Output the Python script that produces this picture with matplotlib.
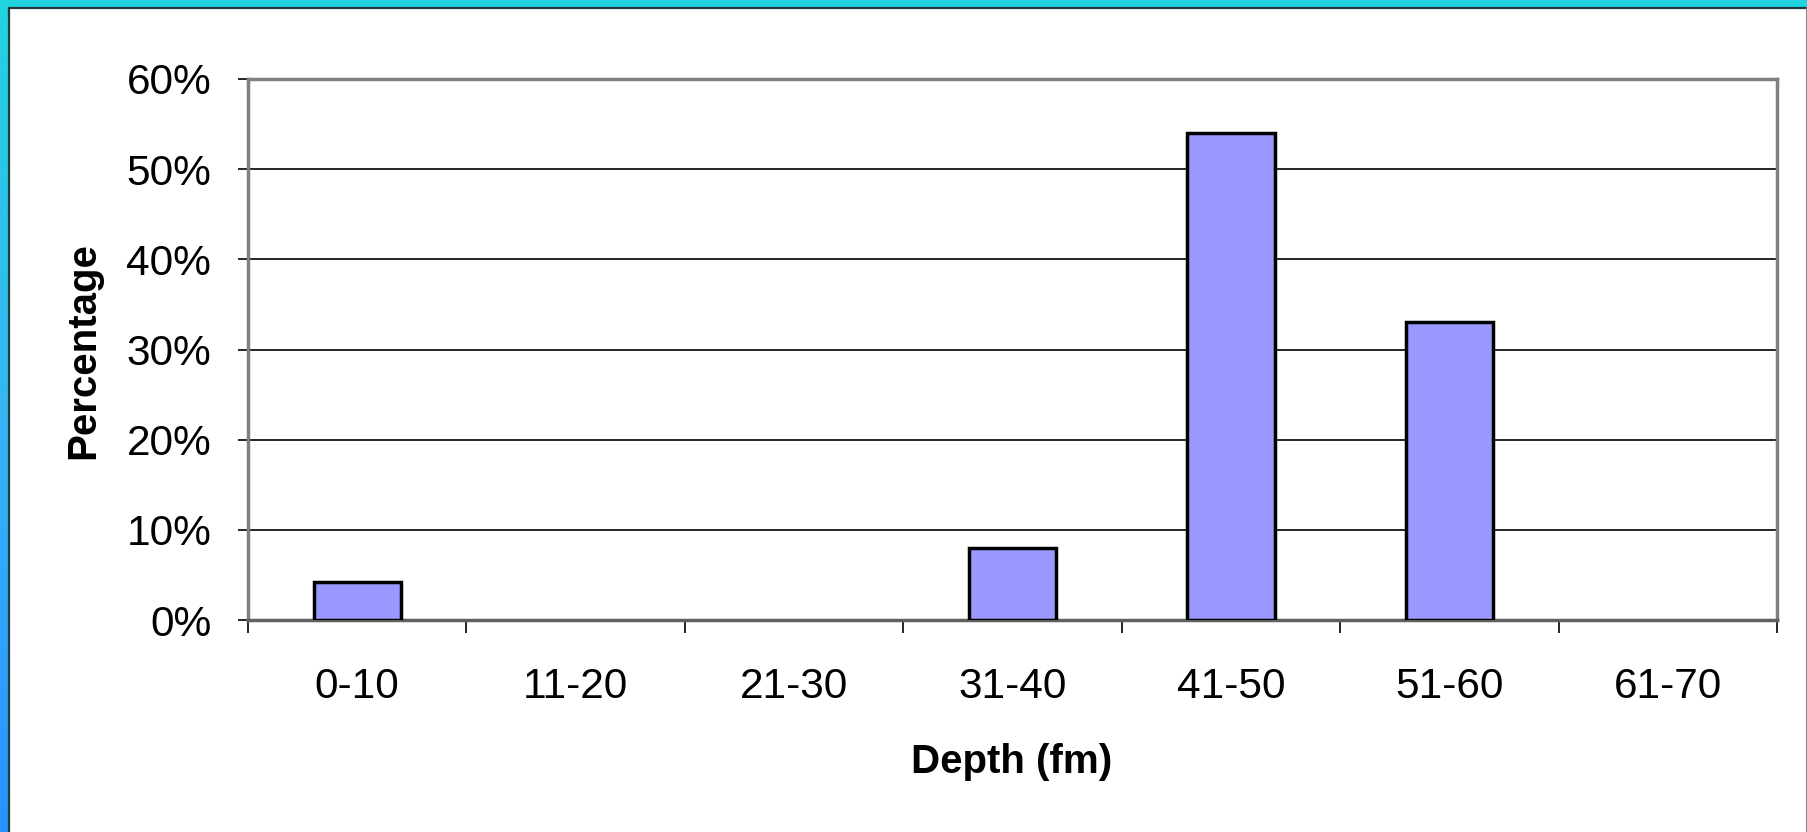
import numpy as np
import matplotlib
matplotlib.use("Agg")
import matplotlib.pyplot as plt
from matplotlib.patches import Rectangle
from matplotlib.lines import Line2D
from matplotlib.colors import LinearSegmentedColormap
from matplotlib.ticker import FuncFormatter

# Depth distribution
categories = ["0-10", "11-20", "21-30", "31-40", "41-50", "51-60", "61-70"]
percentages = [4.2, 0, 0, 8, 54, 33, 0]
y_ticks = [0, 10, 20, 30, 40, 50, 60]

W, H, DPI = 1808, 832, 100
plt.rcParams["font.family"] = ["Liberation Sans", "DejaVu Sans"]

fig = plt.figure(figsize=(W / DPI, H / DPI), dpi=DPI, facecolor="white")

# slide frame: cyan top strip, cyan-to-blue left strip, thin dark edges
grad = fig.add_axes([0, 0, 8 / W, 1])
cmap = LinearSegmentedColormap.from_list("frame", ["#2a92ff", "#35b6f4", "#22d3e0"])
grad.imshow(np.linspace(0, 1, 256)[:, None], aspect="auto", cmap=cmap,
            origin="lower", extent=[0, 1, 0, 1])
grad.set_axis_off()
fig.patches.append(Rectangle((0, 1 - 7 / H), 1, 7 / H, transform=fig.transFigure,
                             facecolor="#22d3e0", edgecolor="none", zorder=5))
fig.lines.append(Line2D([8.5 / W, 1], [1 - 7.5 / H, 1 - 7.5 / H],
                        transform=fig.transFigure, color="#1f3a40", lw=1.6, zorder=6))
fig.lines.append(Line2D([8.5 / W, 8.5 / W], [0, 1 - 7.5 / H],
                        transform=fig.transFigure, color="#1f3a40", lw=1.6, zorder=6))
fig.lines.append(Line2D([1 - 1 / W, 1 - 1 / W], [0, 1 - 7.5 / H],
                        transform=fig.transFigure, color="#707070", lw=1.2, zorder=6))

# plot area
left, right, top, bottom = 248, 1777, 79, 620
ax = fig.add_axes([left / W, 1 - bottom / H, (right - left) / W, (bottom - top) / H])

x = np.arange(len(categories))
edge_widths = [2.5 if v > 0 else 0 for v in percentages]
ax.bar(x, percentages, width=0.4, color="#9999ff", edgecolor="black",
       linewidth=edge_widths, zorder=3)

ax.set_xlim(-0.5, len(categories) - 0.5)
ax.set_ylim(0, 60)
ax.set_yticks(y_ticks)
ax.yaxis.set_major_formatter(FuncFormatter(lambda v, p: f"{v:.0f}%"))
ax.yaxis.grid(True, color="black", linewidth=1.2, zorder=1)
ax.set_axisbelow(True)

# category boundaries carry tick marks, centres carry labels
ax.set_xticks(np.arange(-0.5, len(categories), 1.0))
ax.set_xticklabels([])
ax.set_xticks(x, minor=True)
ax.set_xticklabels(categories, minor=True)
ax.tick_params(axis="x", which="major", direction="out", length=9.5, width=1.2,
               color="black")
ax.tick_params(axis="x", which="minor", length=0, pad=34, labelsize=30.5)
ax.tick_params(axis="y", direction="out", length=7.5, width=1.2, color="black",
               pad=19, labelsize=30.5)

for side in ["top", "right", "left", "bottom"]:
    ax.spines[side].set_color("#808080")
    ax.spines[side].set_linewidth(2.5)
ax.spines["bottom"].set_color("#606060")

fig.text(1012 / W, 1 - 773 / H, "Depth (fm)", ha="center", va="baseline",
         fontsize=29, fontweight="bold")
fig.text(83 / W, 1 - 351 / H, "Percentage", ha="center", va="center",
         rotation=90, fontsize=29, fontweight="bold")

fig.savefig("out.png", dpi=DPI, facecolor="white")
